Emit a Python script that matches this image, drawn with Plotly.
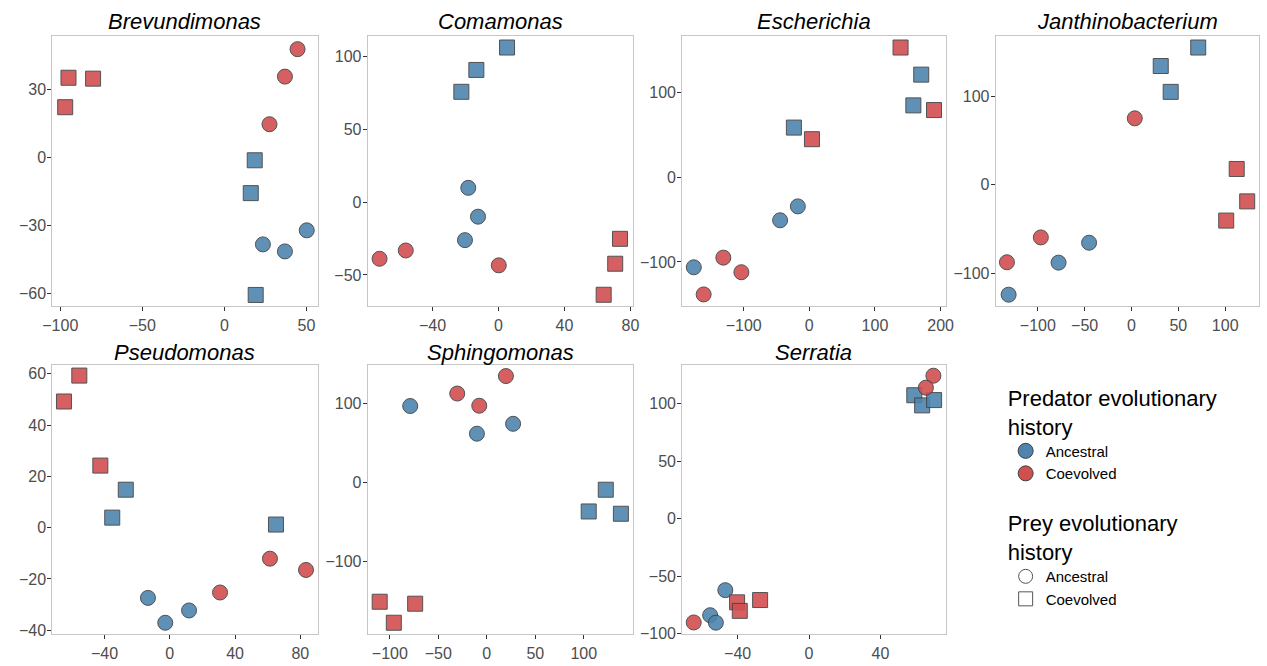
import plotly.graph_objects as go

W, H = 1267, 666

genera = ["Brevundimonas", "Comamonas", "Escherichia", "Janthinobacterium",
          "Pseudomonas", "Sphingomonas", "Serratia"]

# order of points in every panel: predator / prey history
predator = ["Ancestral"] * 6 + ["Coevolved"] * 6
prey = (["Ancestral"] * 3 + ["Coevolved"] * 3) * 2

brev_x = [50.2, 23.5, 36.9, 18.5, 16.1, 19.1, 44.6, 36.9, 27.5, -95.0, -80.0, -97.0]
brev_y = [-32.3, -38.5, -41.6, -1.4, -15.9, -60.8, 47.6, 35.5, 14.5, 35.0, 34.6, 22.0]

coma_x = [-18.3, -12.4, -20.3, 5.2, -13.4, -22.5, -72.1, -56.2, 0.2, 73.7, 70.8, 63.8]
coma_y = [9.8, -10.0, -26.1, 106.1, 90.7, 75.7, -38.9, -33.2, -43.4, -25.2, -42.3, -63.6]

esch_x = [-17.5, -44.5, -176.0, 170.5, 158.5, -23.5, -131.0, -103.5, -161.0, 139.0, 190.0, 4.0]
esch_y = [-34.4, -50.8, -106.3, 121.1, 84.8, 58.6, -94.9, -112.1, -138.3, 153.1, 79.3, 44.9]

jant_x = [-45.3, -77.9, -131.2, 71.2, 31.2, 41.8, 3.5, -96.8, -133.0, 112.3, 123.5, 101.1]
jant_y = [-65.4, -87.9, -124.1, 155.1, 134.2, 105.0, 75.1, -59.4, -87.5, 17.9, -18.7, -40.4]

pseu_x = [-13.4, -2.8, 11.8, -27.0, -35.3, 65.1, 61.4, 83.5, 30.8, -55.5, -64.9, -42.6]
pseu_y = [-27.4, -37.1, -32.3, 14.8, 3.9, 1.2, -12.1, -16.5, -25.3, 59.3, 49.2, 24.2]

sphi_x = [-79.0, -10.2, 27.1, 122.7, 105.1, 138.3, 19.7, -30.5, -7.8, -110.5, -73.9, -95.9]
sphi_y = [96.3, 61.3, 73.8, -9.6, -37.1, -40.0, 134.2, 112.1, 96.7, -151.3, -153.8, -177.9]

serr_x = [-46.9, -55.4, -52.2, 59.0, 63.4, 70.1, 69.7, 65.5, -64.6, -40.3, -38.8, -27.4]
serr_y = [-62.2, -84.0, -90.5, 107.4, 98.6, 103.2, 124.4, 114.0, -90.3, -72.8, -80.2, -70.8]

xs = [brev_x, coma_x, esch_x, jant_x, pseu_x, sphi_x, serr_x]
ys = [brev_y, coma_y, esch_y, jant_y, pseu_y, sphi_y, serr_y]

x_ranges = [[-104.8, 56.8], [-79.2, 81.6], [-193.5, 207.5], [-144.9, 136.1],
            [-72.0, 90.6], [-122.7, 150.8], [-71.0, 76.5]]
y_ranges = [[-65.8, 53.6], [-71.5, 114.3], [-152.3, 167.2], [-137.2, 168.6],
            [-41.6, 63.6], [-192.5, 148.75], [-100.6, 134.1]]
x_ticks = [[-100, -50, 0, 50], [-40, 0, 40, 80], [-100, 0, 100, 200],
           [-100, -50, 0, 50, 100], [-40, 0, 40, 80], [-100, -50, 0, 50, 100],
           [-40, 0, 40]]
y_ticks = [[-60, -30, 0, 30], [-50, 0, 50, 100], [-100, 0, 100], [-100, 0, 100],
           [-40, -20, 0, 20, 40, 60], [-100, 0, 100], [-100, -50, 0, 50, 100]]

pred_colors = {"Ancestral": "#4E84AD", "Coevolved": "#D24F50"}
prey_symbols = {"Ancestral": "circle", "Coevolved": "square"}

# panel pixel boxes (left, right, top, bottom)
col_px = [(43, 312), (363, 632), (682, 949), (1000, 1267)]
row_px = [(36, 310), (369, 642)]
title_offset = [14, 12]

FONT = "Liberation Sans, Arial, Helvetica, sans-serif"

fig = go.Figure()
layout = dict(
    width=W, height=H,
    margin=dict(l=0, r=0, t=0, b=0),
    paper_bgcolor="white", plot_bgcolor="white",
    font=dict(family=FONT, color="#4D4D4D", size=16),
    showlegend=True,
)
annotations = []

for i, g in enumerate(genera):
    r, c = divmod(i, 4)
    l, rr = col_px[c]
    t, b = row_px[r]
    xa = "x" if i == 0 else f"x{i+1}"
    ya = "y" if i == 0 else f"y{i+1}"
    xkey = "xaxis" if i == 0 else f"xaxis{i+1}"
    ykey = "yaxis" if i == 0 else f"yaxis{i+1}"
    axis_common = dict(showgrid=False, zeroline=False, showline=True, mirror=True,
                       linecolor="#C6C6C6", linewidth=1.3, ticks="outside",
                       ticklen=4, tickwidth=1, tickcolor="#333333",
                       tickfont=dict(size=16, color="#4D4D4D", family=FONT))
    layout[xkey] = dict(axis_common, domain=[l / W, min(rr / W, 1.0)],
                        range=x_ranges[i], tickvals=x_ticks[i], anchor=ya)
    layout[ykey] = dict(axis_common, domain=[1 - b / H, 1 - t / H],
                        range=y_ranges[i], tickvals=y_ticks[i], anchor=xa,
                        ticklabelstandoff=-2)
    for pv in ["Ancestral", "Coevolved"]:
        for py in ["Ancestral", "Coevolved"]:
            idx = [k for k in range(12) if predator[k] == pv and prey[k] == py]
            fig.add_trace(go.Scatter(
                x=[xs[i][k] for k in idx], y=[ys[i][k] for k in idx],
                mode="markers", xaxis=xa, yaxis=ya, showlegend=False,
                marker=dict(symbol=prey_symbols[py], size=15,
                            color=pred_colors[pv], opacity=0.9,
                            line=dict(color="#404040", width=1)),
            ))
    annotations.append(dict(
        text=f"<i>{g}</i>", x=(l + rr) / 2 / W, y=1 - (t - title_offset[r]) / H,
        xref="paper", yref="paper", showarrow=False, xanchor="center",
        yanchor="middle", font=dict(size=22, color="black", family=FONT)))

# legend entries
for pv in ["Ancestral", "Coevolved"]:
    fig.add_trace(go.Scatter(
        x=[None], y=[None], mode="markers", name=pv, legend="legend",
        marker=dict(symbol="circle", size=15, color=pred_colors[pv],
                    line=dict(color="#404040", width=1))))
for py in ["Ancestral", "Coevolved"]:
    fig.add_trace(go.Scatter(
        x=[None], y=[None], mode="markers", name=py, legend="legend2",
        marker=dict(symbol=prey_symbols[py], size=14, color="white",
                    line=dict(color="#555555", width=1))))

legend_common = dict(xanchor="left", yanchor="top", bgcolor="rgba(0,0,0,0)",
                     font=dict(size=15, color="black", family=FONT),
                     itemsizing="trace", tracegroupgap=0)
layout["legend"] = dict(legend_common, x=1010 / W, y=1 - 382 / H,
                        title=dict(text="Predator evolutionary<br>history",
                                   font=dict(size=22, color="black", family=FONT)))
layout["legend2"] = dict(legend_common, x=1010 / W, y=1 - 509 / H,
                         title=dict(text="Prey evolutionary<br>history",
                                    font=dict(size=22, color="black", family=FONT)))
layout["annotations"] = annotations
fig.update_layout(**layout)
fig.write_html("out.html")
